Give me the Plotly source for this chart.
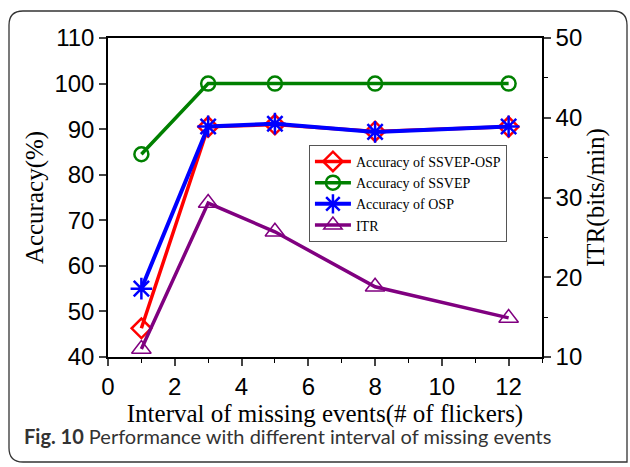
import plotly.graph_objects as go

x_vals = [1, 3, 5, 8, 12]
acc_ssvep_osp = [46.3, 90.5, 91.0, 89.5, 90.5]
acc_ssvep = [84.5, 100, 100, 100, 100]
acc_osp = [55.0, 90.6, 91.2, 89.4, 90.6]
itr = [11.0, 29.3, 25.7, 18.8, 14.9]

fig = go.Figure()
fig.add_trace(go.Scatter(x=x_vals, y=itr, name="ITR", mode="lines+markers", yaxis="y2", legendrank=4,
                         line=dict(color="#800080", width=3.5),
                         marker=dict(symbol="triangle-up-open", size=17, color="#800080", line=dict(width=1.5))))
fig.add_trace(go.Scatter(x=x_vals, y=acc_ssvep, name="Accuracy of SSVEP", mode="lines+markers", legendrank=2,
                         line=dict(color="#008000", width=3.5),
                         marker=dict(symbol="circle-open", size=14, color="#008000", line=dict(width=2.5))))
fig.add_trace(go.Scatter(x=x_vals, y=acc_ssvep_osp, name="Accuracy of SSVEP-OSP", mode="lines+markers", legendrank=1,
                         line=dict(color="#ff0000", width=3.5),
                         marker=dict(symbol="diamond-open", size=15, color="#ff0000", line=dict(width=2.5))))
fig.add_trace(go.Scatter(x=x_vals, y=acc_osp, name="Accuracy of OSP", mode="lines+markers", legendrank=3,
                         line=dict(color="#0000ff", width=4),
                         marker=dict(symbol="asterisk-open", size=18, color="#0000ff", line=dict(width=2.5, color="#0000ff"))))

tickfont = dict(family="Liberation Sans, Arial", size=24, color="black")
titlefont = dict(family="Liberation Serif, Times New Roman", size=25, color="black")

fig.update_layout(
    width=630, height=467,
    margin=dict(l=108, r=88, t=38, b=110),
    paper_bgcolor="white", plot_bgcolor="white",
    showlegend=True,
    legend=dict(x=0.463, y=0.665, xanchor="left", yanchor="top",
                bordercolor="#555", borderwidth=1, bgcolor="white",
                font=dict(family="Liberation Serif, Times New Roman", size=14, color="black"),
                tracegroupgap=0, itemwidth=36, traceorder="normal"),
    xaxis=dict(range=[0, 13], dtick=2, tick0=0, ticks="outside", ticklen=7, tickwidth=1.5,
               showline=True, linecolor="black", linewidth=1.5, mirror=True, showgrid=False, zeroline=False,
               tickfont=tickfont,
               minor=dict(dtick=1, ticks="outside", ticklen=4, tickwidth=1.2, tickcolor="black"),
               title=dict(text="Interval of missing events(# of flickers)", font=titlefont, standoff=0)),
    yaxis=dict(range=[40, 110], dtick=10, ticks="outside", ticklen=7, tickwidth=1.5,
               showline=True, linecolor="black", linewidth=1.5, showgrid=False, zeroline=False,
               tickfont=tickfont,
               title=dict(text="Accuracy(%)", font=titlefont, standoff=4)),
    yaxis2=dict(range=[10, 50], dtick=10, overlaying="y", side="right", ticks="outside", ticklen=7, tickwidth=1.5,
                showline=True, linecolor="black", linewidth=1.5, showgrid=False, zeroline=False,
                tickfont=tickfont,
                minor=dict(dtick=5, ticks="outside", ticklen=4, tickwidth=1.2, tickcolor="black"),
                title=dict(text="ITR(bits/min)", font=titlefont, standoff=2)),
)

W, H = 630, 467
pl, pr, pt, pb = 108, 88, 38, 110
pw, ph = W - pl - pr, H - pt - pb
def px(x):
    return (x - pl) / pw
def py(y):
    return (H - pb - y) / ph
x0, x1, y0, y1, r = 9, 627, 11, 462, 14
path = (f"M {px(x0+r)} {py(y0)} L {px(x1-r)} {py(y0)} Q {px(x1)} {py(y0)} {px(x1)} {py(y0+r)} "
        f"L {px(x1)} {py(y1)} L {px(x0+r)} {py(y1)} Q {px(x0)} {py(y1)} {px(x0)} {py(y1-r)} "
        f"L {px(x0)} {py(y0+r)} Q {px(x0)} {py(y0)} {px(x0+r)} {py(y0)} Z")
fig.add_shape(type="path", xref="paper", yref="paper", path=path,
              line=dict(color="#333", width=1.3), layer="below")

fig.add_annotation(xref="paper", yref="paper", x=px(22), y=py(436), xanchor="left", yanchor="middle",
                   showarrow=False,
                   text="<b>Fig. 10</b> Performance with different interval of missing events",
                   font=dict(family="Lato, Noto Sans", size=20, color="#333"))

fig.write_html("out.html")
